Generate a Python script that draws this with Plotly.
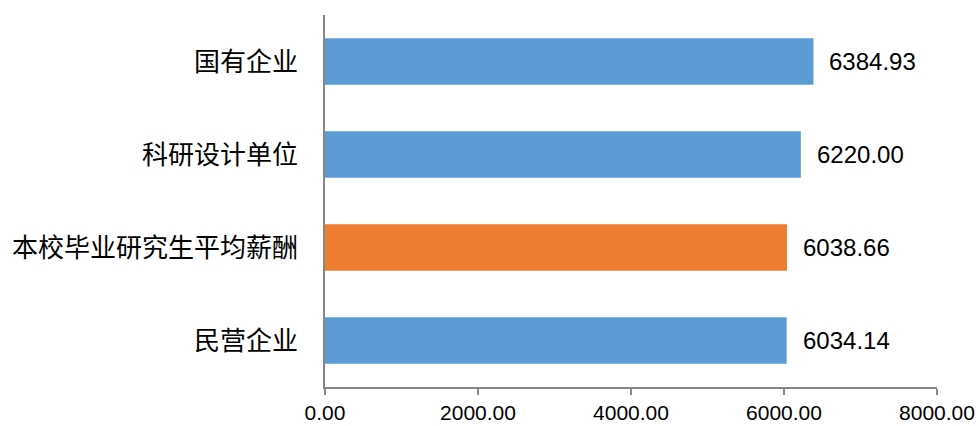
import plotly.graph_objects as go

categories = ["民营企业", "本校毕业研究生平均薪酬", "科研设计单位", "国有企业"]
values = [6034.14, 6038.66, 6220.00, 6384.93]
colors = ["#5B9BD5", "#ED7D31", "#5B9BD5", "#5B9BD5"]
tick_vals = [0, 2000, 4000, 6000, 8000]
tick_text = ["0.00", "2000.00", "4000.00", "6000.00", "8000.00"]

fig = go.Figure()
fig.add_trace(go.Bar(
    x=values, y=categories, orientation="h",
    marker=dict(color=colors, line=dict(width=0)),
    width=0.5, hoverinfo="skip",
))
for c, v in zip(categories, values):
    fig.add_annotation(x=v, y=c, text=f"{v:.2f}", showarrow=False,
                       xanchor="left", xshift=14,
                       font=dict(family="Liberation Sans, Arial, sans-serif", size=24, color="#000"))

fig.update_layout(
    width=976, height=426,
    margin=dict(l=325, r=39, t=15, b=39),
    paper_bgcolor="white", plot_bgcolor="white",
    showlegend=False,
    xaxis=dict(range=[0, 8000], tickvals=tick_vals, ticktext=tick_text,
               showgrid=False, zeroline=False, automargin=False,
               showline=True, linecolor="#868686", linewidth=1.5,
               ticks="outside", ticklen=6, tickcolor="#868686", tickwidth=1.5,
               tickfont=dict(family="Liberation Sans, Arial, sans-serif", size=21, color="#000")),
    yaxis=dict(range=[-0.5, 3.5], showgrid=False, zeroline=False, automargin=False,
               showline=True, linecolor="#868686", linewidth=1.5,
               ticks="", ticklabelstandoff=20,
               tickfont=dict(family="Noto Sans CJK SC", size=26, color="#000")),
)
fig.write_html("out.html", config={"displayModeBar": False},
               post_script="document.body.style.margin='0';")
